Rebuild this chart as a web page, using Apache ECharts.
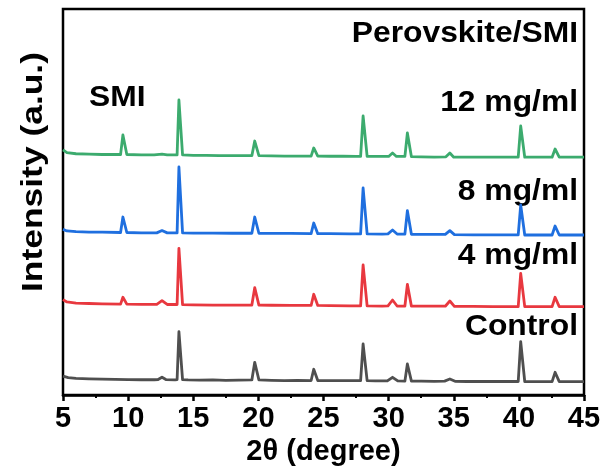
<!DOCTYPE html>
<html>
<head>
<meta charset="utf-8">
<script src="https://cdn.jsdelivr.net/npm/echarts@6/dist/echarts.min.js"></script>
<style>
  html, body { margin: 0; padding: 0; background: #fff; }
  #chart { width: 608px; height: 473px; }
</style>
</head>
<body>
<div id="chart"></div>
<script>
// XRD patterns of perovskite films with different SMI concentrations.
// Each trace is [2θ (degree), intensity (a.u.)], already offset vertically for stacking.
const xTicks = [5, 10, 15, 20, 25, 30, 35, 40, 45];

const controlTrace = [
  [5.0, 4.9], [5.4, 4.5], [6.0, 4.3], [7.0, 4.2], [8.0, 4.1], [9.0, 4.05], [10.0, 4.0], [11.0, 3.95],
  [12.0, 3.95], [12.3, 4.0], [12.6, 4.6], [12.9, 4.0], [13.6, 3.9], [13.76, 4.0], [13.9, 16.4], [14.02, 16.4],
  [14.18, 4.0], [14.6, 3.9], [15.5, 3.85], [16.5, 3.9], [17.5, 3.8], [18.5, 3.85], [19.5, 3.9], [19.72, 8.47],
  [19.84, 8.47], [20.04, 3.9], [21.0, 3.8], [22.0, 3.75], [23.0, 3.8], [24.05, 3.75], [24.25, 6.66], [24.37, 6.66],
  [24.56, 3.75], [25.5, 3.7], [26.5, 3.7], [27.5, 3.7], [27.85, 3.7], [28.04, 13.21], [28.16, 13.21], [28.35, 3.7],
  [29.0, 3.65], [29.9, 3.65], [30.3, 4.59], [30.7, 3.65], [31.25, 3.6], [31.44, 8.03], [31.56, 8.03], [31.75, 3.6],
  [32.5, 3.6], [33.5, 3.55], [34.3, 3.6], [34.7, 4.15], [35.1, 3.55], [36.0, 3.5], [37.0, 3.55], [38.0, 3.5],
  [39.0, 3.5], [39.95, 3.5], [40.14, 13.81], [40.26, 13.81], [40.45, 3.5], [41.5, 3.45], [42.55, 3.45], [42.78, 5.88],
  [42.9, 5.88], [43.1, 3.45], [44.0, 3.45], [45.0, 3.45]
];

const smi4Trace = [
  [5.0, 24.7], [5.3, 24.1], [6.0, 23.8], [7.0, 23.7], [8.0, 23.6], [9.42, 23.55], [9.6, 25.31], [9.72, 25.31],
  [9.9, 23.55], [11.0, 23.5], [12.2, 23.5], [12.6, 24.43], [13.0, 23.45], [13.76, 23.45], [13.9, 38.01], [14.02, 38.01],
  [14.18, 23.4], [15.0, 23.35], [16.5, 23.3], [18.0, 23.3], [19.5, 23.3], [19.72, 27.8], [19.84, 27.8], [20.04, 23.3],
  [21.0, 23.25], [22.5, 23.2], [24.05, 23.2], [24.25, 26.09], [24.37, 26.09], [24.56, 23.2], [25.5, 23.15], [27.0, 23.1],
  [27.85, 23.1], [28.04, 33.68], [28.16, 33.68], [28.35, 23.1], [29.5, 23.05], [29.95, 23.1], [30.3, 24.61], [30.65, 23.05],
  [31.25, 23.05], [31.44, 28.68], [31.56, 28.68], [31.75, 23.0], [33.0, 23.0], [34.35, 23.0], [34.7, 24.35], [35.05, 22.95],
  [36.5, 22.95], [38.0, 22.9], [39.95, 22.9], [40.14, 31.53], [40.26, 31.53], [40.45, 22.9], [41.5, 22.9], [42.55, 22.9],
  [42.78, 25.31], [42.9, 25.31], [43.1, 22.88], [44.0, 22.88], [45.0, 22.88]
];

const smi8Trace = [
  [5.0, 42.9], [5.3, 42.5], [6.0, 42.3], [7.0, 42.2], [8.0, 42.2], [9.42, 42.1], [9.6, 46.11], [9.72, 46.11],
  [9.9, 42.1], [11.0, 42.0], [12.2, 42.0], [12.6, 42.6], [13.0, 42.0], [13.76, 42.0], [13.9, 59.07], [14.02, 59.07],
  [14.18, 42.0], [15.0, 41.95], [16.5, 41.95], [18.0, 41.9], [19.5, 41.9], [19.72, 46.11], [19.84, 46.11], [20.04, 41.9],
  [21.0, 41.85], [22.5, 41.85], [24.05, 41.8], [24.25, 44.56], [24.37, 44.56], [24.56, 41.8], [25.5, 41.8], [27.0, 41.75],
  [27.85, 41.75], [28.04, 53.63], [28.16, 53.63], [28.35, 41.75], [29.5, 41.7], [29.95, 41.75], [30.3, 42.75], [30.65, 41.7],
  [31.25, 41.7], [31.44, 47.75], [31.56, 47.75], [31.75, 41.65], [33.0, 41.6], [34.35, 41.6], [34.7, 42.57], [35.05, 41.55],
  [36.5, 41.5], [38.0, 41.5], [39.95, 41.5], [40.14, 49.22], [40.26, 49.22], [40.45, 41.45], [41.5, 41.45], [42.55, 41.45],
  [42.78, 43.78], [42.9, 43.78], [43.1, 41.45], [44.0, 41.45], [45.0, 41.45]
];

const smi12Trace = [
  [5.0, 63.5], [5.3, 62.8], [6.0, 62.5], [7.0, 62.4], [8.0, 62.3], [9.42, 62.3], [9.6, 67.36], [9.72, 67.36],
  [9.9, 62.3], [11.0, 62.2], [12.0, 62.2], [12.6, 62.4], [13.0, 62.2], [13.76, 62.2], [13.9, 76.42], [14.02, 76.42],
  [14.18, 62.2], [15.0, 62.1], [16.0, 62.1], [17.0, 62.0], [18.0, 62.0], [19.5, 62.0], [19.72, 65.8], [19.84, 65.8],
  [20.04, 62.0], [21.0, 61.95], [22.0, 61.9], [23.0, 61.9], [24.05, 61.9], [24.25, 64.0], [24.37, 64.0], [24.56, 61.9],
  [25.5, 61.85], [26.5, 61.85], [27.5, 61.8], [27.85, 61.8], [28.04, 72.28], [28.16, 72.28], [28.35, 61.8], [29.5, 61.8],
  [30.0, 61.8], [30.3, 62.69], [30.6, 61.8], [31.25, 61.8], [31.44, 67.88], [31.56, 67.88], [31.75, 61.75], [32.5, 61.7],
  [33.5, 61.6], [34.4, 61.7], [34.7, 62.69], [35.0, 61.6], [36.0, 61.6], [37.0, 61.6], [38.0, 61.65], [39.0, 61.6],
  [39.95, 61.6], [40.14, 69.69], [40.26, 69.69], [40.45, 61.6], [41.5, 61.6], [42.55, 61.6], [42.78, 63.73], [42.9, 63.73],
  [43.1, 61.6], [44.0, 61.6], [45.0, 61.6]
];

const seriesNames = ['Control', '4 mg/ml', '8 mg/ml', '12 mg/ml'];
const seriesColors = ['#4f4f4f', '#e8383f', '#1f6fdf', '#3cab6e'];
const traces = [controlTrace, smi4Trace, smi8Trace, smi12Trace];

const FONT = '"Liberation Sans", Arial, Helvetica, sans-serif';

const chart = echarts.init(document.getElementById('chart'), null, { renderer: 'canvas' });

// Annotation text helper: bold, right- or left-anchored, slightly widened glyphs
function note(text, x, y, align) {
  return {
    type: 'text', x: x, y: y, scaleX: 1.06,
    style: { text: text, align: align, verticalAlign: 'middle', font: 'bold 30px ' + FONT, fill: '#000' }
  };
}

const option = {
  animation: false,
  backgroundColor: '#ffffff',
  grid: {
    left: 63, right: 24, top: 9, bottom: 78,
    show: true, borderColor: '#000', borderWidth: 2.5, backgroundColor: 'transparent'
  },
  xAxis: {
    type: 'value',
    min: xTicks[0],
    max: xTicks[xTicks.length - 1],
    interval: 5,
    name: '2θ (degree)',
    nameLocation: 'middle',
    nameGap: 40,
    nameTextStyle: { fontFamily: FONT, fontWeight: 'bold', fontSize: 29, color: '#000' },
    axisLine: { show: true, onZero: false, lineStyle: { color: '#000', width: 2.5 } },
    axisTick: { show: true, inside: false, length: 6, lineStyle: { color: '#000', width: 2.5 } },
    minorTick: { show: true, splitNumber: 2, length: 3, lineStyle: { color: '#000', width: 2 } },
    axisLabel: { margin: 9, fontFamily: FONT, fontWeight: 'bold', fontSize: 29, color: '#000' },
    splitLine: { show: false }
  },
  yAxis: {
    type: 'value',
    min: 0,
    max: 100,
    axisLine: { show: false },
    axisTick: { show: false },
    axisLabel: { show: false },
    splitLine: { show: false }
  },
  series: traces.map((data, i) => ({
    name: seriesNames[i],
    type: 'line',
    data: data,
    showSymbol: false,
    symbol: 'none',
    smooth: false,
    lineStyle: { color: seriesColors[i], width: 2.8, join: 'round' },
    z: 2 + i
  })),
  graphic: [
    {
      type: 'text', x: 34, y: 172, rotation: Math.PI / 2, scaleX: 1.18,
      style: { text: 'Intensity (a.u.)', align: 'center', verticalAlign: 'middle',
               font: 'bold 30px ' + FONT, fill: '#000' }
    },
    note('Perovskite/SMI', 578, 34, 'right'),
    note('12 mg/ml', 578, 103, 'right'),
    note('8 mg/ml', 578, 192, 'right'),
    note('4 mg/ml', 578, 256, 'right'),
    note('Control', 578, 327, 'right'),
    note('SMI', 89, 98, 'left')
  ]
};

chart.setOption(option);
</script>
</body>
</html>
